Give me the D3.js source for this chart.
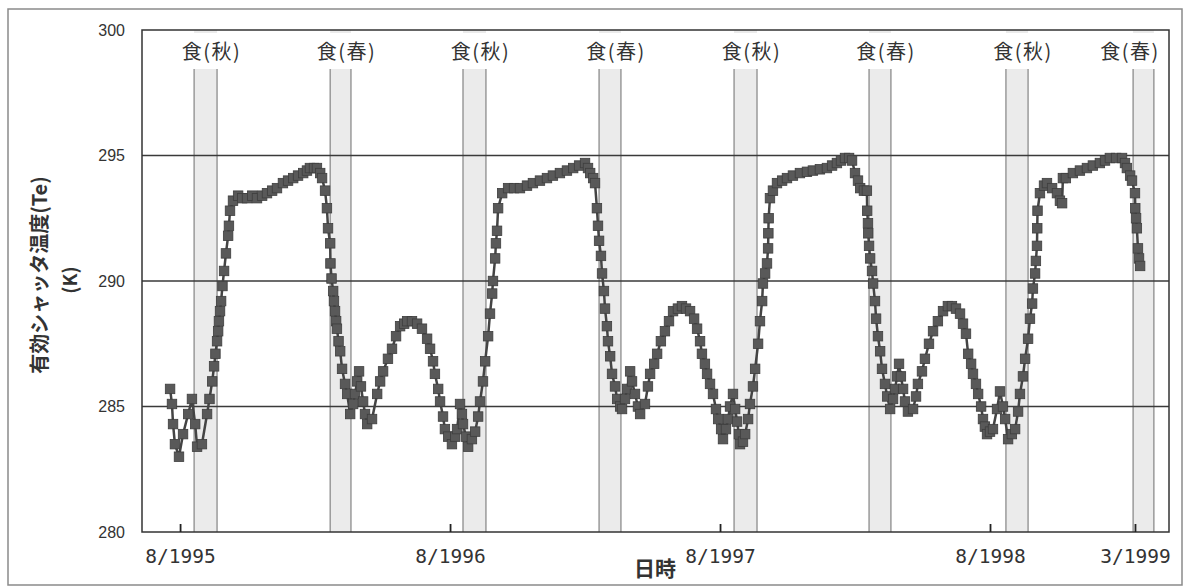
<!DOCTYPE html>
<html>
<head>
<meta charset="utf-8">
<script src="https://cdn.jsdelivr.net/npm/d3@7"></script>
<style>
  html, body { margin: 0; padding: 0; background: #fff; }
  svg { display: block; }
</style>
</head>
<body>
<svg id="chart" width="1188" height="588"></svg>
<script>
// ---------- DATA (time in years since 8/1995, temperature in K) ----------
const timeYears = [
 -0.037,-0.030,-0.026,-0.019,-0.004,0.011,0.030,0.044,0.056,0.063,0.081,0.100,0.109,0.119,0.126,0.131,0.137,0.141,0.144,0.148,0.152,0.157,0.163,0.170,0.178,0.181,0.185,0.196,0.215,0.230,
 0.248,0.267,0.285,0.304,0.322,0.341,0.359,0.381,0.400,0.419,0.437,0.456,0.470,0.481,0.496,0.507,0.519,0.526,0.537,0.544,
 0.548,0.556,0.557,0.561,0.567,0.570,0.574,0.578,0.581,0.587,0.593,0.600,0.611,0.619,0.630,0.641,0.648,0.656,0.663,0.670,
 0.678,0.685,0.693,0.711,0.730,0.741,0.752,0.770,0.785,0.800,0.815,0.830,0.841,0.859,0.878,0.896,0.915,0.926,0.937,0.944,
 0.956,0.963,0.974,0.981,0.993,1.007,1.019,1.026,1.037,1.044,1.048,1.059,1.067,1.081,1.093,1.104,1.111,1.122,1.130,1.141,
 1.148,1.156,1.159,1.167,1.170,1.174,1.178,1.193,1.215,1.237,1.259,1.285,1.307,1.333,1.359,1.381,1.407,1.433,1.456,1.478,
 1.500,1.511,1.519,1.530,1.537,1.544,1.548,1.552,1.559,1.563,1.570,1.574,1.581,1.585,1.593,1.600,1.611,1.619,1.630,1.637,
 1.648,1.656,1.667,1.674,1.685,1.696,1.704,1.722,1.733,1.741,1.756,1.767,1.781,1.796,1.811,1.826,1.844,1.859,1.874,1.889,
 1.904,1.915,1.926,1.933,1.944,1.952,1.963,1.974,1.985,1.993,2.004,2.011,2.022,2.030,2.037,2.048,2.056,2.063,2.070,2.074,
 2.085,2.093,2.104,2.111,2.122,2.130,2.141,2.148,2.156,2.159,2.167,2.174,2.178,2.179,2.180,2.185,2.196,2.211,2.230,2.248,
 2.270,2.296,2.322,2.344,2.370,2.396,2.415,2.433,2.448,2.463,2.478,2.489,2.500,2.511,2.519,2.533,2.544,2.545,2.548,2.549,
 2.552,2.556,2.563,2.567,2.574,2.578,2.585,2.593,2.600,2.611,2.619,2.630,2.641,2.648,2.656,2.663,2.670,2.678,2.685,2.696,
 2.715,2.726,2.733,2.748,2.759,2.774,2.789,2.807,2.826,2.844,2.859,2.874,2.889,2.900,2.911,2.919,2.930,2.937,2.948,2.956,
 2.967,2.974,2.981,2.989,3.000,3.011,3.026,3.037,3.048,3.056,3.067,3.081,3.093,3.104,3.111,3.122,3.130,3.141,3.148,3.156,
 3.159,3.167,3.170,3.174,3.175,3.176,3.185,3.200,3.211,3.230,3.248,3.259,3.267,3.270,3.281,3.307,3.333,3.359,3.381,3.407,
 3.426,3.444,3.467,3.489,3.500,3.507,3.519,3.526,3.537,3.538,3.541,3.544,3.548,3.552,3.556
];
const shutterTempK = [
 285.7,285.1,284.3,283.5,283.0,283.9,284.7,285.3,284.3,283.4,283.5,284.7,285.3,286.0,286.6,287.1,287.6,288.0,288.4,288.8,289.2,289.8,290.4,291.1,291.8,292.2,292.8,293.2,293.4,293.3,
 293.3,293.4,293.3,293.4,293.5,293.6,293.7,293.9,294.0,294.1,294.2,294.3,294.4,294.5,294.5,294.5,294.3,294.1,293.6,292.9,
 292.1,291.5,290.7,290.1,289.6,289.2,288.8,288.4,288.1,287.6,287.2,286.5,285.9,285.5,284.7,285.1,285.5,286.0,286.4,285.8,
 285.2,284.7,284.3,284.5,285.5,286.0,286.4,286.9,287.3,287.8,288.2,288.3,288.4,288.4,288.3,288.1,287.7,287.3,286.8,286.3,
 285.7,285.2,284.6,284.1,283.8,283.5,283.8,284.1,285.1,284.7,284.3,283.8,283.4,283.7,284.0,284.6,285.2,286.0,286.8,287.8,
 288.7,289.5,290.0,290.9,291.5,292.0,292.9,293.5,293.7,293.7,293.7,293.8,293.9,294.0,294.1,294.2,294.3,294.4,294.5,294.6,
 294.7,294.5,294.3,294.1,293.9,292.9,292.2,291.6,291.0,290.3,289.6,288.9,288.2,287.6,287.0,286.3,285.8,285.3,285.0,284.9,
 285.3,285.7,286.4,286.0,285.5,285.0,284.7,285.1,285.8,286.3,286.7,287.1,287.6,288.0,288.4,288.8,288.9,289.0,288.9,288.8,
 288.5,288.1,287.6,287.1,286.7,286.3,285.9,285.5,284.9,284.5,284.1,283.7,284.1,284.5,285.0,285.5,284.9,284.4,283.9,283.5,
 283.6,283.9,284.5,285.1,285.8,286.5,287.5,288.4,289.2,289.9,290.3,290.7,291.3,291.9,292.5,293.3,293.6,293.9,294.0,294.1,
 294.2,294.3,294.35,294.4,294.45,294.5,294.6,294.7,294.8,294.9,294.9,294.8,294.3,294.0,293.7,293.6,293.6,292.8,292.3,291.9,
 291.4,290.9,290.4,289.9,289.2,288.5,287.8,287.2,286.5,285.9,285.4,284.9,285.3,285.7,286.2,286.7,286.2,285.7,285.2,284.8,
 284.9,285.4,285.9,286.4,286.9,287.5,288.0,288.4,288.8,289.0,289.0,288.9,288.7,288.3,287.9,287.1,286.7,286.3,285.9,285.5,
 285.0,284.5,284.2,283.9,284.0,284.1,284.9,285.6,285.0,284.5,283.7,283.9,284.1,284.8,285.5,286.2,286.9,287.7,288.5,289.1,
 289.7,290.3,290.8,291.4,292.1,292.8,293.5,293.8,293.9,293.7,293.5,293.2,293.1,294.1,294.1,294.3,294.4,294.5,294.6,294.7,
 294.8,294.9,294.9,294.9,294.7,294.5,294.2,294.0,293.5,292.9,292.5,292.1,291.3,290.9,290.6
];

// eclipse seasons (years since 8/1995)
const eclipseStart = [0.052, 0.556, 1.048, 1.552, 2.052, 2.552, 3.059, 3.530];
const eclipseEnd   = [0.137, 0.633, 1.133, 1.633, 2.137, 2.633, 3.141, 3.607];
const eclipseLabel = ["食(秋)", "食(春)", "食(秋)", "食(春)", "食(秋)", "食(春)", "食(秋)", "食(春)"];

const xTickValues = [0, 1, 2, 3, 3.537];
const xTickLabels = ["8/1995", "8/1996", "8/1997", "8/1998", "3/1999"];
const yTickValues = [280, 285, 290, 295, 300];
const yGridValues = [285, 290, 295];

// ---------- LAYOUT ----------
const svg = d3.select("#chart");
const L = 142, R = 1169, T = 30, B = 532;
const x = d3.scaleLinear().domain([-0.141, 3.663]).range([L, R]);
const y = d3.scaleLinear().domain([280, 300]).range([B, T]);

// outer frame
svg.append("rect").attr("x", 8).attr("y", 9).attr("width", 1174).attr("height", 576)
  .attr("fill", "none").attr("stroke", "#8a8a8a").attr("stroke-width", 1.5);

// eclipse bands
const bands = svg.append("g");
eclipseStart.forEach((s, i) => {
  const x0 = x(s), x1 = x(eclipseEnd[i]);
  bands.append("rect").attr("x", x0).attr("y", T).attr("width", x1 - x0).attr("height", B - T)
    .attr("fill", "#ebebeb");
  bands.append("rect").attr("x", x0 - 2).attr("y", T + 3).attr("width", x1 - x0 + 4).attr("height", 36)
    .attr("fill", "#fff");
  [x0, x1].forEach(xx => bands.append("line").attr("x1", xx).attr("x2", xx)
    .attr("y1", T + 39).attr("y2", B).attr("stroke", "#8c8c8c").attr("stroke-width", 1.3));
  let cx = (x0 + x1) / 2 + 6;
  cx = Math.min(cx, R - 39);
  bands.append("text").attr("x", cx).attr("y", T + 29).attr("text-anchor", "middle")
    .attr("font-family", "'Noto Sans CJK JP', sans-serif").attr("font-size", 20)
    .attr("letter-spacing", 1.5).attr("fill", "#333").text(eclipseLabel[i]);
});

// grid lines
svg.append("g").selectAll("line").data(yGridValues).join("line")
  .attr("x1", L).attr("x2", R).attr("y1", d => y(d)).attr("y2", d => y(d))
  .attr("stroke", "#3a3a3a").attr("stroke-width", 1.3);

// plot border
svg.append("rect").attr("x", L).attr("y", T).attr("width", R - L).attr("height", B - T)
  .attr("fill", "none").attr("stroke", "#333").attr("stroke-width", 1.5);

// y axis
const yAxis = d3.axisLeft(y).tickValues(yTickValues).tickSize(0).tickPadding(17).tickFormat(d3.format("d"));
const gy = svg.append("g").attr("transform", `translate(${L},0)`).call(yAxis);
gy.select(".domain").remove();
gy.selectAll("text").attr("font-family", "'Liberation Sans', Arial, sans-serif")
  .attr("font-size", 16).attr("fill", "#333");

// x axis
const xAxis = d3.axisTop(x).tickValues(xTickValues).tickSize(8).tickFormat((d, i) => xTickLabels[i]);
const gx = svg.append("g").attr("transform", `translate(0,${B})`).call(xAxis);
gx.select(".domain").remove();
gx.selectAll("line").attr("stroke", "#222").attr("stroke-width", 1.8);
gx.selectAll("text").attr("y", 31).attr("dy", 0)
  .attr("font-family", "'DejaVu Sans Mono', monospace").attr("font-size", 19.5).attr("fill", "#333");

// series
const pts = timeYears.map((t, i) => [t, shutterTempK[i]]);
svg.append("path").datum(pts)
  .attr("d", d3.line().x(d => x(d[0])).y(d => y(d[1])))
  .attr("fill", "none").attr("stroke", "#444").attr("stroke-width", 2.5);
const ms = 9.5;
svg.append("g").selectAll("rect").data(pts).join("rect")
  .attr("x", d => x(d[0]) - ms / 2).attr("y", d => y(d[1]) - ms / 2)
  .attr("width", ms).attr("height", ms)
  .attr("fill", "#595959").attr("stroke", "#3e3e3e").attr("stroke-width", 0.8);

// axis titles
svg.append("text").attr("transform", "translate(47,275) rotate(-90)")
  .attr("text-anchor", "middle").attr("font-family", "'Noto Sans CJK JP', sans-serif")
  .attr("font-size", 20).attr("font-weight", "bold").attr("fill", "#333")
  .text("有効シャッタ温度(Te)");
svg.append("text").attr("transform", "translate(77,280) rotate(-90)")
  .attr("text-anchor", "middle").attr("font-family", "'Noto Sans CJK JP', sans-serif")
  .attr("font-size", 19).attr("font-weight", "bold").attr("fill", "#333")
  .text("(K)");
svg.append("text").attr("x", 655).attr("y", 576).attr("text-anchor", "middle")
  .attr("font-family", "'Noto Sans CJK JP', sans-serif").attr("font-size", 21)
  .attr("font-weight", "bold").attr("fill", "#333").text("日時");
</script>
</body>
</html>
